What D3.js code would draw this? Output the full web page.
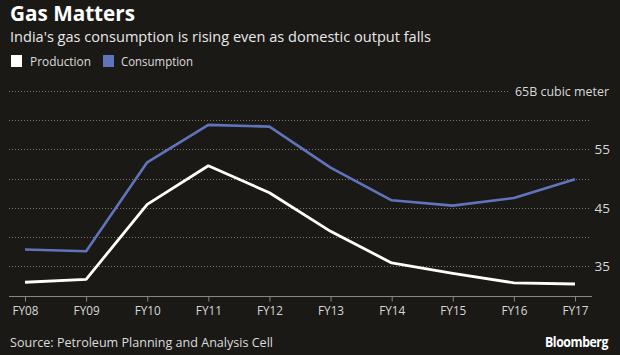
<!DOCTYPE html>
<html>
<head>
<meta charset="utf-8">
<script src="https://cdn.jsdelivr.net/npm/d3@7"></script>
<style>
html,body{margin:0;padding:0;background:#1b1916;}
svg{display:block;}
text{font-family:"Open Sans","DejaVu Sans",sans-serif;}
</style>
</head>
<body>
<svg id="chart" width="620" height="355"></svg>
<script>
const categories = ["FY08","FY09","FY10","FY11","FY12","FY13","FY14","FY15","FY16","FY17"];
const production = [32.3, 32.8, 45.6, 52.2, 47.6, 41.0, 35.6, 33.8, 32.2, 32.0];
const consumption = [37.9, 37.6, 52.8, 59.2, 58.9, 51.9, 46.3, 45.4, 46.7, 49.9];
const gridTicks = [35, 40, 45, 50, 55, 60, 65];
const labelTicks = [35, 45, 55];
const unitLabel = "65B cubic meter";
const title = "Gas Matters";
const subtitle = "India's gas consumption is rising even as domestic output falls";
const source = "Source: Petroleum Planning and Analysis Cell";
const seriesNames = ["Production", "Consumption"];
const colors = {Production: "#ffffff", Consumption: "#6074bc"};

const svg = d3.select("#chart");
svg.append("rect").attr("width", 620).attr("height", 355).attr("fill", "#1b1916");

const x = d3.scalePoint().domain(categories).range([25, 575]);
const y = d3.scaleLinear().domain([30, 65]).range([295.7, 90.9]);

// Title
svg.append("text").attr("x", 10).attr("y", 21).attr("fill", "#ffffff")
  .attr("font-size", 21).attr("font-weight", "bold")
  .attr("textLength", 125).attr("lengthAdjust", "spacingAndGlyphs").text(title);
svg.append("text").attr("x", 10).attr("y", 42).attr("fill", "#e8e8e8")
  .attr("font-size", 14.5)
  .attr("textLength", 421).attr("lengthAdjust", "spacingAndGlyphs").text(subtitle);

// Legend
const leg = [{name: seriesNames[0], sx: 11, tx: 30, tw: 61}, {name: seriesNames[1], sx: 103, tx: 121, tw: 72}];
leg.forEach(l => {
  svg.append("rect").attr("x", l.sx).attr("y", 55).attr("width", 11).attr("height", 12)
    .attr("fill", colors[l.name]);
  svg.append("text").attr("x", l.tx).attr("y", 65.5).attr("fill", "#dcdcdc")
    .attr("font-size", 13).attr("textLength", l.tw).attr("lengthAdjust", "spacingAndGlyphs").text(l.name);
});

// Gridlines
const g = svg.append("g");
gridTicks.forEach(t => {
  g.append("line").attr("x1", 9).attr("x2", t === 65 ? 508 : 591)
    .attr("y1", Math.round(y(t)) + 0.5).attr("y2", Math.round(y(t)) + 0.5)
    .attr("stroke", "#7c7870").attr("stroke-width", 1).attr("stroke-dasharray", "1,2");
});
labelTicks.forEach(t => {
  g.append("text").attr("x", 610).attr("y", y(t) + 5).attr("text-anchor", "end")
    .attr("fill", "#d8d8d8").attr("font-size", 13.5).text(t);
});
g.append("text").attr("x", 609).attr("y", y(65) + 5).attr("text-anchor", "end")
  .attr("fill", "#d8d8d8").attr("font-size", 13)
  .attr("textLength", 94).attr("lengthAdjust", "spacingAndGlyphs").text(unitLabel);

// X axis
const xAxis = d3.axisBottom(x).tickSize(5).tickPadding(5).tickSizeOuter(0);
const ax = svg.append("g").attr("transform", `translate(0,${Math.round(y(30)) + 0.5})`).call(xAxis);
ax.select(".domain").attr("d", "M9,0H592").attr("stroke", "#8a8680");
ax.selectAll(".tick line").attr("stroke", "#8a8680");
ax.selectAll(".tick text").attr("fill", "#d8d8d8").attr("font-size", 12.5)
  .attr("font-family", "'Open Sans',sans-serif").attr("textLength", 26).attr("lengthAdjust", "spacingAndGlyphs");

// Lines
const line = d3.line().x((d, i) => x(categories[i])).y(d => y(d));
svg.append("path").datum(consumption).attr("d", line).attr("fill", "none")
  .attr("stroke", colors.Consumption).attr("stroke-width", 2.6).attr("stroke-linejoin", "round");
svg.append("path").datum(production).attr("d", line).attr("fill", "none")
  .attr("stroke", colors.Production).attr("stroke-width", 2.8).attr("stroke-linejoin", "round");

// Footer
svg.append("text").attr("x", 10).attr("y", 347).attr("fill", "#dcdcdc").attr("font-size", 13)
  .attr("textLength", 263).attr("lengthAdjust", "spacingAndGlyphs").text(source);
svg.append("text").attr("x", 608).attr("y", 347).attr("text-anchor", "end").attr("fill", "#ffffff")
  .attr("font-size", 14).attr("font-weight", "bold").attr("letter-spacing", -0.5)
  .attr("textLength", 63).attr("lengthAdjust", "spacingAndGlyphs").text("Bloomberg");
</script>
</body>
</html>
